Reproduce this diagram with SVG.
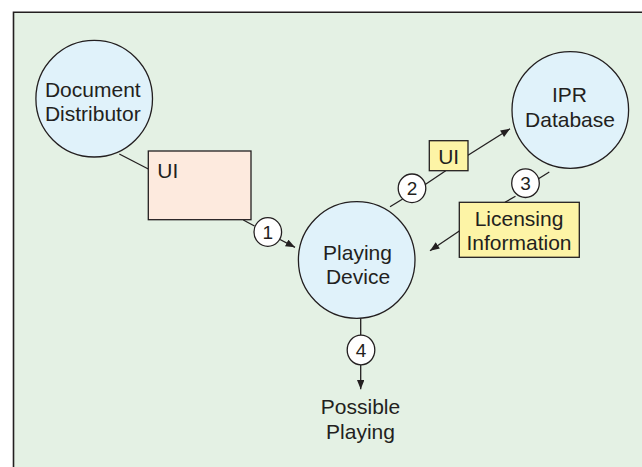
<svg xmlns="http://www.w3.org/2000/svg" width="642" height="467" viewBox="0 0 642 467">
  <defs>
    <marker id="arrow" viewBox="0 0 10 8" refX="10" refY="4" markerWidth="10" markerHeight="7.5" markerUnits="userSpaceOnUse" orient="auto">
      <path d="M0,0 L10,4 L0,8 Z" fill="#231f20"/>
    </marker>
    <style>
      .bg { fill: #e4f1e4; }
      .frame { fill: none; stroke: #231f20; stroke-width: 1.6; }
      .node { fill: #e0f2fa; stroke: #231f20; stroke-width: 1.3; }
      .pink { fill: #fdeade; stroke: #231f20; stroke-width: 1.3; }
      .yellow { fill: #fdf4a6; stroke: #231f20; stroke-width: 1.3; }
      .step { fill: #ffffff; stroke: #231f20; stroke-width: 1.3; }
      .link { fill: none; stroke: #231f20; stroke-width: 1.3; }
      text { font-family: "Liberation Sans", Arial, sans-serif; font-size: 21px; fill: #231f20; }
      .mid { text-anchor: middle; }
      .num { font-size: 19px; text-anchor: middle; }
    </style>
  </defs>

  <!-- panel background and frame -->
  <rect class="bg" x="13.5" y="12.3" width="629" height="455"/>
  <path class="frame" d="M13.5,467 V12.3 H642"/>

  <!-- connectors -->
  <g id="connectors">
    <line class="link" x1="119.3" y1="154" x2="148.3" y2="169"/>
    <line class="link" x1="243.3" y1="220" x2="254.5" y2="226"/>
    <line class="link" x1="280" y1="239.5" x2="295" y2="247.3" marker-end="url(#arrow)"/>

    <line class="link" x1="390" y1="206.7" x2="402.7" y2="199"/>
    <line class="link" x1="424.5" y1="185" x2="445.7" y2="170.7"/>
    <line class="link" x1="468" y1="155.3" x2="510" y2="128.7" marker-end="url(#arrow)"/>

    <line class="link" x1="549.3" y1="172" x2="538.5" y2="178.8"/>
    <line class="link" x1="515.5" y1="196.2" x2="505" y2="202.3"/>
    <line class="link" x1="459.3" y1="231" x2="430" y2="250.7" marker-end="url(#arrow)"/>

    <line class="link" x1="360.7" y1="318.3" x2="360.7" y2="335"/>
    <line class="link" x1="360.7" y1="365" x2="360.7" y2="389.3" marker-end="url(#arrow)"/>
  </g>

  <!-- nodes -->
  <g id="document-distributor">
    <circle class="node" cx="94.2" cy="98.7" r="58.3"/>
    <text class="mid" x="92.8" y="96.5">Document</text>
    <text class="mid" x="92.8" y="120.5">Distributor</text>
  </g>

  <g id="ipr-database">
    <circle class="node" cx="570.3" cy="110" r="58.3"/>
    <text class="mid" x="569.5" y="101.7">IPR</text>
    <text class="mid" x="570" y="126.7">Database</text>
  </g>

  <g id="playing-device">
    <circle class="node" cx="356.7" cy="260" r="58.3"/>
    <text class="mid" x="357.5" y="260">Playing</text>
    <text class="mid" x="358" y="283.5">Device</text>
  </g>

  <g id="ui-distributor">
    <rect class="pink" x="148.3" y="151" width="102.7" height="68.7"/>
    <text x="157.3" y="178">UI</text>
  </g>

  <g id="ui-database">
    <rect class="yellow" x="429.3" y="140.7" width="38.7" height="30"/>
    <text class="mid" x="448.7" y="164">UI</text>
  </g>

  <g id="licensing-information">
    <rect class="yellow" x="459.3" y="202.3" width="120" height="55"/>
    <text class="mid" x="519" y="225.7">Licensing</text>
    <text class="mid" x="519" y="249.5">Information</text>
  </g>

  <g id="possible-playing">
    <text class="mid" x="360.5" y="414.3">Possible</text>
    <text class="mid" x="360.5" y="439">Playing</text>
  </g>

  <!-- numbered steps -->
  <g id="step-1">
    <ellipse class="step" cx="267.8" cy="232" rx="13.8" ry="14.3"/>
    <text class="num" x="267.8" y="239">1</text>
  </g>
  <g id="step-2">
    <ellipse class="step" cx="412" cy="188.3" rx="13.8" ry="14.3"/>
    <text class="num" x="412" y="195.3">2</text>
  </g>
  <g id="step-3">
    <ellipse class="step" cx="525.5" cy="183.2" rx="13.8" ry="14.3"/>
    <text class="num" x="525.5" y="190.2">3</text>
  </g>
  <g id="step-4">
    <ellipse class="step" cx="361" cy="350" rx="13.8" ry="14.8"/>
    <text class="num" x="361" y="357">4</text>
  </g>
</svg>
